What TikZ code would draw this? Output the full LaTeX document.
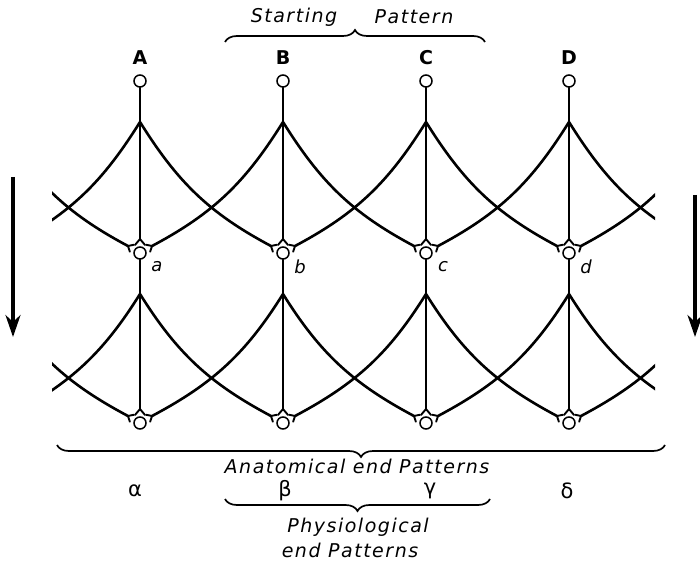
\documentclass[tikz,border=0pt]{standalone}
\usepackage{fontspec}
\setmainfont{DejaVu Sans}
\newfontfamily\handfont[LetterSpace=8]{DejaVu Sans}
\usetikzlibrary{decorations.pathreplacing,arrows.meta,calc}
\begin{document}
\begin{tikzpicture}[x=1pt,y=1pt,
  nerve/.style={line width=2.6pt, line cap=round},
  cellc/.style={circle, draw, line width=1.5pt, minimum size=12pt, inner sep=0pt},
  forkline/.style={line width=1.9pt, line cap=round},
  brc/.style={decorate, decoration={brace, amplitude=12pt}, line width=1.7pt},
  brcm/.style={decorate, decoration={brace, amplitude=12pt, mirror}, line width=1.7pt},
  captext/.style={font=\handfont\itshape\fontsize{19}{22}\selectfont, inner sep=0pt},
  biglab/.style={font=\bfseries\fontsize{19}{21}\selectfont, inner sep=0pt},
  smalllab/.style={font=\itshape\fontsize{18}{20}\selectfont, inner sep=0pt},
  greek/.style={font=\fontsize{21}{23}\selectfont, inner sep=0pt},
  bigarrow/.style={line width=4pt, -{Stealth[length=22pt,width=15pt]}}
]
\useasboundingbox (0,0) rectangle (700,565);

% coordinates for all columns (0 and 5 are virtual, off-picture)
\foreach \i in {0,...,5} {
  \pgfmathsetmacro\xx{-3+143*\i}
  \coordinate (p\i) at (\xx,443);
  \coordinate (q\i) at (\xx,271);
  \coordinate (mL\i) at (\xx-12,319);
  \coordinate (mR\i) at (\xx+12,319);
  \coordinate (bL\i) at (\xx-12,149);
  \coordinate (bR\i) at (\xx+12,149);
}

% real columns
\foreach \i/\U/\l in {1/A/a,2/B/b,3/C/c,4/D/d} {
  \pgfmathsetmacro\xx{-3+143*\i}
  \node[cellc] (t\i) at (\xx,484) {};
  \node[cellc] (m\i) at (\xx,312) {};
  \node[cellc] (b\i) at (\xx,142) {};
  \coordinate (mT\i) at (\xx,326);
  \coordinate (bT\i) at (\xx,156);
  \node[biglab] (lab\i) at (\xx,507) {\U};
  \node[smalllab] (sl\i) at (\xx+17,298) {\l};
  \draw[nerve] (t\i) -- (p\i) -- (mT\i);
  \draw[nerve] (m\i) -- (q\i) -- (bT\i);
  \foreach \r in {m,b} {
    \draw[forkline] (\r T\i) -- ++(-5,-6);
    \draw[forkline] (\r T\i) -- ++(5,-6);
    \draw[forkline] (\r L\i) -- ++(12:6);
    \draw[forkline] (\r L\i) -- ++(-72:6);
    \draw[forkline] (\r R\i) -- ++(168:6);
    \draw[forkline] (\r R\i) -- ++(252:6);
  }
}

% curved branches
\begin{scope}
\clip (52,0) rectangle (655,565);
\foreach \i [evaluate=\i as \j using int(\i+1)] in {0,...,4} {
  \draw[nerve] (p\i) to[out=-58,in=152] (mL\j);
  \draw[nerve] (p\j) to[out=238,in=28] (mR\i);
  \draw[nerve] (q\i) to[out=-58,in=152] (bL\j);
  \draw[nerve] (q\j) to[out=238,in=28] (bR\i);
}
\end{scope}

% arrows
\coordinate (la1) at (13,388);
\coordinate (la2) at (13,228);
\coordinate (ra1) at (695,370);
\coordinate (ra2) at (695,228);
\draw[bigarrow] (la1) -- (la2);
\draw[bigarrow] (ra1) -- (ra2);

% top brace
\coordinate (tb1) at (225,523);
\coordinate (tb2) at (485,523);
\draw[brc] (tb1) -- (tb2);
\node[captext] (st1) at (294,548) {Starting};
\node[captext] (st2) at (414,548) {Pattern};

% bottom big brace
\coordinate (bb1) at (57,120);
\coordinate (bb2) at (665,120);
\draw[brcm] (bb1) -- (bb2);
\node[captext] (anat) at (357,99) {Anatomical end Patterns};

% greek letters
\node[greek] (g1) at (135,74) {α};
\node[greek] (g2) at (285,74) {β};
\node[greek] (g3) at (430,74) {γ};
\node[greek] (g4) at (567,74) {δ};

% physiological brace
\coordinate (pb1) at (225,66);
\coordinate (pb2) at (490,66);
\draw[brcm] (pb1) -- (pb2);
\node[captext] (phys1) at (358,38) {Physiological};
\node[captext] (phys2) at (350,15) {end Patterns};
\end{tikzpicture}
\end{document}
